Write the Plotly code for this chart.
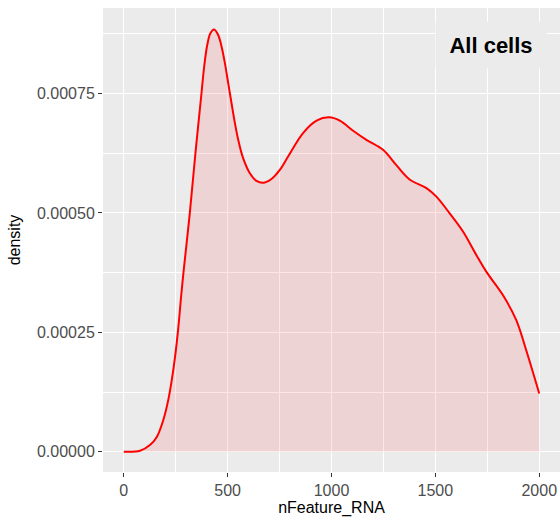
import plotly.graph_objects as go

# Density estimate of nFeature_RNA
n_feature = [0, 78, 126, 159, 190, 214, 231, 247, 263, 276, 287, 318, 345, 374, 387,
             402, 417, 435, 455, 471, 487, 503, 519, 535, 551, 575, 607, 639, 671, 711,
             751, 791, 863, 928, 988, 1040, 1104, 1168, 1248, 1312, 1376, 1457, 1505,
             1569, 1633, 1697, 1745, 1825, 1889, 1937, 2000]
density = [0.0, 0.000002, 0.000014, 0.000031, 0.000066, 0.000108, 0.000150, 0.000199,
           0.000262, 0.000325, 0.000374, 0.000500, 0.000625, 0.000750, 0.000806,
           0.000852, 0.000876, 0.000884, 0.000872, 0.000848, 0.000813, 0.000771,
           0.000729, 0.000688, 0.000653, 0.000614, 0.000583, 0.000567, 0.000563,
           0.000571, 0.000590, 0.000618, 0.000667, 0.000693, 0.000700, 0.000693,
           0.000672, 0.000653, 0.000632, 0.000600, 0.000570, 0.000552, 0.000534,
           0.000499, 0.000461, 0.000412, 0.000377, 0.000328, 0.000276, 0.000213,
           0.000122]

x_ticks = [0, 500, 1000, 1500, 2000]
x_tick_labels = ["0", "500", "1000", "1500", "2000"]
y_ticks = [0.0, 0.00025, 0.0005, 0.00075]
y_tick_labels = ["0.00000", "0.00025", "0.00050", "0.00075"]
label_text = "All cells"

FONT = "Liberation Sans, Arial, Helvetica, sans-serif"

fig = go.Figure()
fig.add_trace(go.Scatter(
    x=n_feature, y=density, mode="lines",
    line=dict(color="#FF0000", width=2, shape="spline", smoothing=1.0),
    fill="tozeroy", fillcolor="rgba(255,0,0,0.1)",
    hoverinfo="skip", showlegend=False,
))

axis_common = dict(
    showline=False, zeroline=False, automargin=False,
    gridcolor="white", gridwidth=1.4,
    ticks="outside", ticklen=4, tickwidth=1, tickcolor="#333333",
    tickfont=dict(family=FONT, size=16, color="#4D4D4D"),
)

fig.update_layout(
    width=560, height=527,
    margin=dict(l=103, r=0, t=8, b=55),
    paper_bgcolor="white", plot_bgcolor="#EBEBEB",
    font=dict(family=FONT),
    xaxis=dict(
        range=[-100, 2100], tickvals=x_ticks, ticktext=x_tick_labels,
        minor=dict(dtick=250, tick0=0, showgrid=True, gridcolor="white", gridwidth=0.7, ticks=""),
        title=dict(text="nFeature_RNA", font=dict(family=FONT, size=16, color="black"), standoff=3),
        **axis_common,
    ),
    yaxis=dict(
        range=[-0.0000425, 0.000929], tickvals=y_ticks, ticktext=y_tick_labels,
        minor=dict(dtick=0.000125, tick0=0, showgrid=True, gridcolor="white", gridwidth=0.7, ticks=""),
        title=dict(text="density", font=dict(family=FONT, size=16, color="black"), standoff=12),
        **axis_common,
    ),
    annotations=[dict(
        text="<b>" + label_text + "</b>",
        xref="paper", yref="paper",
        x=(491 - 103) / 457, y=(472 - 45) / 464,
        xanchor="center", yanchor="middle",
        showarrow=False,
        font=dict(family=FONT, size=22, color="black"),
        bgcolor="#EBEBEB", width=108, height=44,
    )],
)

fig.write_html("out.html",
               config={"displayModeBar": False},
               post_script="document.body.style.margin='0';document.body.style.padding='0';")
